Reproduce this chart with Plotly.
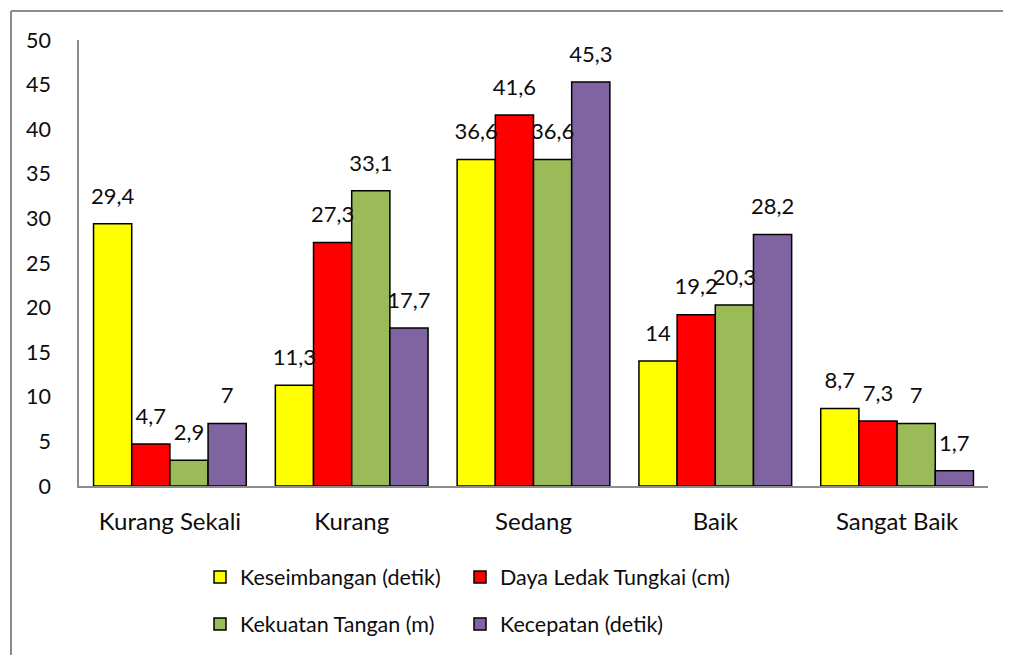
import plotly.graph_objects as go

categories = ["Kurang Sekali", "Kurang", "Sedang", "Baik", "Sangat Baik"]
series_names = ["Keseimbangan (detik)", "Daya Ledak Tungkai (cm)",
                "Kekuatan Tangan (m)", "Kecepatan (detik)"]
keseimbangan = [29.4, 11.3, 36.6, 14, 8.7]
daya_ledak = [4.7, 27.3, 41.6, 19.2, 7.3]
kekuatan = [2.9, 33.1, 36.6, 20.3, 7]
kecepatan = [7, 17.7, 45.3, 28.2, 1.7]
series_values = [keseimbangan, daya_ledak, kekuatan, kecepatan]
colors = ["#FFFF00", "#FF0000", "#9BBB59", "#8064A2"]
legend_ids = ["legend", "legend2", "legend3", "legend4"]
y_ticks = [0, 5, 10, 15, 20, 25, 30, 35, 40, 45, 50]

FONT = "Lato"
TXT = "#0d0d0d"


def fmt(v):
    return f"{v:g}".replace(".", ",")


fig = go.Figure()
for name, vals, col, lg in zip(series_names, series_values, colors, legend_ids):
    fig.add_trace(go.Bar(
        x=categories, y=vals, name=name, legend=lg,
        marker=dict(color=col, line=dict(color="#000000", width=1.5)),
        hoverinfo="skip",
    ))
for name, vals in zip(series_names, series_values):
    fig.add_trace(go.Scatter(
        x=categories, y=vals, mode="markers+text", showlegend=False,
        text=[fmt(v) for v in vals], textposition="top center",
        textfont=dict(family=FONT, size=22, color=TXT),
        marker=dict(size=22, opacity=0), hoverinfo="skip", cliponaxis=False,
    ))

# page offset caused by the default body margin
OFF = 8
W, H = 1011 - OFF, 655 - OFF
L, R, T, B = 79 - OFF, 23, 40 - OFF, 168
pw, ph = W - L - R, H - T - B


def px_x(x):
    return (x - OFF - L) / pw


def px_y(y):
    return (H - B - (y - OFF)) / ph


def legend_box(xpx, ypx):
    return dict(orientation="h", x=px_x(xpx), y=px_y(ypx),
                xanchor="left", yanchor="middle",
                font=dict(size=21.5), bgcolor="rgba(0,0,0,0)")


fig.update_layout(
    width=W, height=H,
    margin=dict(l=L, r=R, t=T, b=B),
    paper_bgcolor="white", plot_bgcolor="white",
    barmode="group", bargap=0.16, bargroupgap=0,
    scattermode="group", scattergap=0.16,
    font=dict(family=FONT, size=21, color=TXT),
    xaxis=dict(showline=True, linecolor="#8c8c8c", linewidth=1.5,
               showgrid=False, ticks="", ticklabelstandoff=13,
               tickfont=dict(size=24)),
    yaxis=dict(range=[0, 50], tickvals=y_ticks, showline=True,
               linecolor="#8c8c8c", linewidth=1.5, showgrid=False,
               zeroline=False, ticks="", ticklabelstandoff=22,
               tickfont=dict(size=21.5)),
    legend=legend_box(200, 577),
    legend2=legend_box(460, 577),
    legend3=legend_box(200, 624),
    legend4=legend_box(460, 624),
    shapes=[
        dict(type="line", xref="paper", yref="paper",
             x0=px_x(11), x1=px_x(1100), y0=px_y(11), y1=px_y(11),
             line=dict(color="#8c8c8c", width=2)),
        dict(type="line", xref="paper", yref="paper",
             x0=px_x(11), x1=px_x(11), y0=px_y(11), y1=px_y(700),
             line=dict(color="#8c8c8c", width=2)),
    ],
)

fig.write_html("out.html")
